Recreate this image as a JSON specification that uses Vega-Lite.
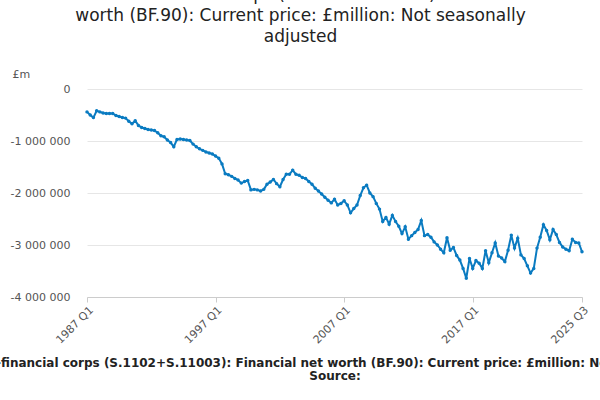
{
"$schema":"https://vega.github.io/schema/vega-lite/v6.json",
"width":495,"height":208,
"autosize":{"type":"none"},
"padding":{"left":87,"right":18,"top":89,"bottom":103},
"config":{"font":"DejaVu Sans","view":{"stroke":null}},
"title":{"text":["Private non-financial corps (S.1102+S.11003): Financial net","worth (BF.90): Current price: £million: Not seasonally","adjusted"],"fontSize":17,"fontWeight":"normal","color":"#222","lineHeight":21,"anchor":"middle","dx":-34,"offset":22},
"data":{"values":[
{"q":"1987 Q1","v":-440000},{"q":"1987 Q2","v":-500000},{"q":"1987 Q3","v":-550000},{"q":"1987 Q4","v":-420000},
{"q":"1988 Q1","v":-440000},{"q":"1988 Q2","v":-460000},{"q":"1988 Q3","v":-470000},{"q":"1988 Q4","v":-470000},
{"q":"1989 Q1","v":-470000},{"q":"1989 Q2","v":-510000},{"q":"1989 Q3","v":-530000},{"q":"1989 Q4","v":-550000},
{"q":"1990 Q1","v":-560000},{"q":"1990 Q2","v":-620000},{"q":"1990 Q3","v":-670000},{"q":"1990 Q4","v":-610000},
{"q":"1991 Q1","v":-700000},{"q":"1991 Q2","v":-740000},{"q":"1991 Q3","v":-760000},{"q":"1991 Q4","v":-780000},
{"q":"1992 Q1","v":-790000},{"q":"1992 Q2","v":-800000},{"q":"1992 Q3","v":-840000},{"q":"1992 Q4","v":-900000},
{"q":"1993 Q1","v":-920000},{"q":"1993 Q2","v":-980000},{"q":"1993 Q3","v":-1030000},{"q":"1993 Q4","v":-1110000},
{"q":"1994 Q1","v":-970000},{"q":"1994 Q2","v":-960000},{"q":"1994 Q3","v":-970000},{"q":"1994 Q4","v":-980000},
{"q":"1995 Q1","v":-990000},{"q":"1995 Q2","v":-1060000},{"q":"1995 Q3","v":-1110000},{"q":"1995 Q4","v":-1150000},
{"q":"1996 Q1","v":-1180000},{"q":"1996 Q2","v":-1210000},{"q":"1996 Q3","v":-1230000},{"q":"1996 Q4","v":-1250000},
{"q":"1997 Q1","v":-1290000},{"q":"1997 Q2","v":-1330000},{"q":"1997 Q3","v":-1440000},{"q":"1997 Q4","v":-1630000},
{"q":"1998 Q1","v":-1650000},{"q":"1998 Q2","v":-1680000},{"q":"1998 Q3","v":-1720000},{"q":"1998 Q4","v":-1750000},
{"q":"1999 Q1","v":-1810000},{"q":"1999 Q2","v":-1780000},{"q":"1999 Q3","v":-1760000},{"q":"1999 Q4","v":-1940000},
{"q":"2000 Q1","v":-1930000},{"q":"2000 Q2","v":-1940000},{"q":"2000 Q3","v":-1960000},{"q":"2000 Q4","v":-1930000},
{"q":"2001 Q1","v":-1830000},{"q":"2001 Q2","v":-1790000},{"q":"2001 Q3","v":-1740000},{"q":"2001 Q4","v":-1820000},
{"q":"2002 Q1","v":-1880000},{"q":"2002 Q2","v":-1740000},{"q":"2002 Q3","v":-1640000},{"q":"2002 Q4","v":-1640000},
{"q":"2003 Q1","v":-1560000},{"q":"2003 Q2","v":-1640000},{"q":"2003 Q3","v":-1660000},{"q":"2003 Q4","v":-1700000},
{"q":"2004 Q1","v":-1720000},{"q":"2004 Q2","v":-1780000},{"q":"2004 Q3","v":-1830000},{"q":"2004 Q4","v":-1910000},
{"q":"2005 Q1","v":-1960000},{"q":"2005 Q2","v":-2020000},{"q":"2005 Q3","v":-2080000},{"q":"2005 Q4","v":-2140000},
{"q":"2006 Q1","v":-2190000},{"q":"2006 Q2","v":-2120000},{"q":"2006 Q3","v":-2230000},{"q":"2006 Q4","v":-2200000},
{"q":"2007 Q1","v":-2150000},{"q":"2007 Q2","v":-2230000},{"q":"2007 Q3","v":-2380000},{"q":"2007 Q4","v":-2300000},
{"q":"2008 Q1","v":-2230000},{"q":"2008 Q2","v":-2050000},{"q":"2008 Q3","v":-1900000},{"q":"2008 Q4","v":-1850000},
{"q":"2009 Q1","v":-2000000},{"q":"2009 Q2","v":-2070000},{"q":"2009 Q3","v":-2200000},{"q":"2009 Q4","v":-2310000},
{"q":"2010 Q1","v":-2550000},{"q":"2010 Q2","v":-2470000},{"q":"2010 Q3","v":-2600000},{"q":"2010 Q4","v":-2430000},
{"q":"2011 Q1","v":-2550000},{"q":"2011 Q2","v":-2640000},{"q":"2011 Q3","v":-2780000},{"q":"2011 Q4","v":-2650000},
{"q":"2012 Q1","v":-2890000},{"q":"2012 Q2","v":-2820000},{"q":"2012 Q3","v":-2760000},{"q":"2012 Q4","v":-2700000},
{"q":"2013 Q1","v":-2530000},{"q":"2013 Q2","v":-2820000},{"q":"2013 Q3","v":-2800000},{"q":"2013 Q4","v":-2850000},
{"q":"2014 Q1","v":-2940000},{"q":"2014 Q2","v":-3000000},{"q":"2014 Q3","v":-3080000},{"q":"2014 Q4","v":-3150000},
{"q":"2015 Q1","v":-2860000},{"q":"2015 Q2","v":-3100000},{"q":"2015 Q3","v":-3050000},{"q":"2015 Q4","v":-3200000},
{"q":"2016 Q1","v":-3290000},{"q":"2016 Q2","v":-3450000},{"q":"2016 Q3","v":-3640000},{"q":"2016 Q4","v":-3260000},
{"q":"2017 Q1","v":-3450000},{"q":"2017 Q2","v":-3300000},{"q":"2017 Q3","v":-3350000},{"q":"2017 Q4","v":-3450000},
{"q":"2018 Q1","v":-3110000},{"q":"2018 Q2","v":-3340000},{"q":"2018 Q3","v":-3150000},{"q":"2018 Q4","v":-2960000},
{"q":"2019 Q1","v":-3210000},{"q":"2019 Q2","v":-3250000},{"q":"2019 Q3","v":-3320000},{"q":"2019 Q4","v":-3100000},
{"q":"2020 Q1","v":-2810000},{"q":"2020 Q2","v":-3060000},{"q":"2020 Q3","v":-2870000},{"q":"2020 Q4","v":-3190000},
{"q":"2021 Q1","v":-3260000},{"q":"2021 Q2","v":-3400000},{"q":"2021 Q3","v":-3540000},{"q":"2021 Q4","v":-3450000},
{"q":"2022 Q1","v":-3060000},{"q":"2022 Q2","v":-2850000},{"q":"2022 Q3","v":-2610000},{"q":"2022 Q4","v":-2720000},
{"q":"2023 Q1","v":-2900000},{"q":"2023 Q2","v":-2700000},{"q":"2023 Q3","v":-2800000},{"q":"2023 Q4","v":-2950000},
{"q":"2024 Q1","v":-3040000},{"q":"2024 Q2","v":-3080000},{"q":"2024 Q3","v":-3110000},{"q":"2024 Q4","v":-2890000},
{"q":"2025 Q1","v":-2950000},{"q":"2025 Q2","v":-2960000},{"q":"2025 Q3","v":-3130000}
]},
"encoding":{
"x":{"field":"q","type":"ordinal","sort":null,"scale":{"type":"point","padding":0},
 "axis":{"values":["1987 Q1","1997 Q1","2007 Q1","2017 Q1","2025 Q3"],"labelAngle":-45,"labelAlign":"right","labelBaseline":"top","labelFontSize":11,"labelColor":"#555","domainColor":"#ccc","tickColor":"#ccc","grid":false,
 "title":["Private non-financial corps (S.1102+S.11003): Financial net worth (BF.90): Current price: £million: Not seasonally adjusted","                                                                                                                                                  Source:"],"titleFontSize":12,"titleFontWeight":"bold","titleColor":"#222","titlePadding":12,"titleLineHeight":13}},
"y":{"field":"v","type":"quantitative","scale":{"domain":[-4000000,0]},
 "axis":{"values":[-4000000,-3000000,-2000000,-1000000,0],"labelExpr":"replace(replace(format(datum.value, ','), /,/g, ' '), '−', '-')","labelFontSize":11,"labelColor":"#555","labelPadding":17,"domain":false,"ticks":false,"gridColor":"#e6e6e6",
 "title":"£m","titleAngle":0,"titleAnchor":"end","titleAlign":"left","titleBaseline":"bottom","titleX":-75,"titleY":-10,"titleFontWeight":"normal","titleFontSize":11,"titleColor":"#555"}}
},
"mark":{"type":"line","color":"#0a7bc1","strokeWidth":2,"point":{"filled":true,"size":12,"color":"#0a7bc1"}}
}
